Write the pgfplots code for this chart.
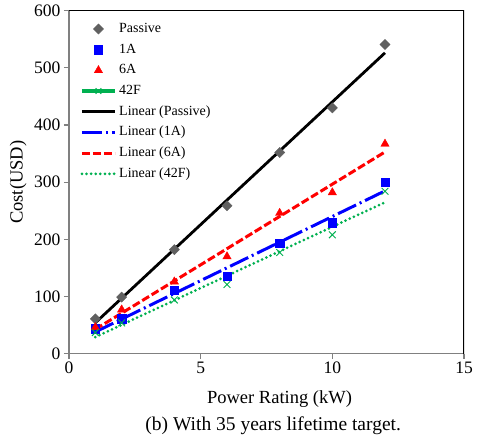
\documentclass[border=0pt]{standalone}
\usepackage{fontspec}
\setmainfont{Liberation Serif}
\usepackage{pgfplots}
\usepackage{pgfplotstable}
\pgfplotsset{compat=1.18}
\definecolor{pgray}{HTML}{606060}
\definecolor{pblue}{HTML}{0000FF}
\definecolor{pred}{HTML}{FF0000}
\definecolor{pgreen}{HTML}{00B050}
\definecolor{axgray}{HTML}{808080}

\pgfplotstableread{
x y
1 61
2 99
4 182
6 259
8 352
10 430
12 541
}\passive
\pgfplotstableread{
x y
1 44
2 61
4 111
6 136
8 193
10 229
12 300
}\oneA
\pgfplotstableread{
x y
1 46
2 77
4 126
6 170
8 246
10 282
12 367
}\sixA
\pgfplotstableread{
x y
1 37
2 54
4 94
6 121
8 177
10 208
12 284
}\ftwoF

\begin{document}
\begin{tikzpicture}
\begin{axis}[
  scale only axis,
  width=395pt, height=343pt,
  xmin=0, xmax=15, ymin=0, ymax=600,
  xtick={0,5,10,15}, ytick={0,100,...,600},
  axis x line*=bottom, axis y line*=left,
  x axis line style={-}, y axis line style={-},
  axis line style={axgray, line width=1.2pt},
  tick style={axgray, line width=1.2pt},
  major tick length=5pt,
  tick align=outside,
  /pgf/number format/assume math mode=true,
  ticklabel style={font=\fontsize{17.5}{20}\selectfont},
  xlabel={Power Rating (kW)},
  ylabel={Cost(USD)},
  label style={font=\fontsize{18.5}{22}\selectfont},
  xlabel style={at={(axis description cs:0.533,0)}, anchor=base, yshift=-50pt},
  ylabel style={at={(axis description cs:-0.107,0.5)}, anchor=south, inner sep=0pt},
  legend cell align=left,
  legend style={at={(axis description cs:0,1)}, anchor=north west, xshift=11pt, yshift=-7.7pt,
    draw=none, fill=none, inner sep=0pt, row sep=0pt,
    font=\fontsize{14}{16}\selectfont,
    nodes={inner ysep=3.85pt, inner xsep=2.5pt, text height=10pt, text depth=3pt}},
  legend image code/.code={\draw[mark repeat=2, mark phase=2, #1] plot coordinates {(0pt,0pt) (16.5pt,0pt) (33pt,0pt)};},
]
\addplot[only marks, mark=square*, mark size=3.6pt, mark options={rotate=45, fill=pgray, draw=pgray}] table[x=x,y=y] {\passive};
\addlegendentry{Passive}
\addplot[only marks, mark=square*, mark size=4.2pt, mark options={fill=pblue, draw=pblue}] table[x=x,y=y] {\oneA};
\addlegendentry{1A}
\addplot[only marks, mark=triangle*, mark size=4.8pt, mark options={fill=pred, draw=pred}] table[x=x,y=y] {\sixA};
\addlegendentry{6A}
\addlegendimage{pgreen, line width=3.5pt, mark=x, mark size=4pt, mark options={line width=1pt, solid}}
\addlegendentry{42F}
\addplot[forget plot, only marks, mark=x, mark size=4.8pt, mark options={pgreen, line width=0.9pt}] table[x=x,y=y] {\ftwoF};
\addplot[black, line width=2.8pt, no marks] table[x=x, y={create col/linear regression={y=y}}] {\passive};
\addlegendentry{Linear (Passive)}
\addplot[pblue, line width=3pt, no marks, dash pattern=on 20pt off 4pt on 2pt off 4pt] table[x=x, y={create col/linear regression={y=y}}] {\oneA};
\addlegendentry{Linear (1A)}
\addplot[pred, line width=3pt, no marks, dash pattern=on 8pt off 3pt] table[x=x, y={create col/linear regression={y=y}}] {\sixA};
\addlegendentry{Linear (6A)}
\addplot[pgreen, line width=3pt, no marks, line cap=round, dash pattern=on 0pt off 4.6pt] table[x=x, y={create col/linear regression={y=y}}] {\ftwoF};
\addlegendentry{Linear (42F)}
\draw[black, line width=1.2pt] (rel axis cs:0,1) -- (rel axis cs:1,1) -- (rel axis cs:1,0);
\coordinate (ll) at (rel axis cs:0,0);
\coordinate (ur) at (rel axis cs:1,1);
\coordinate (cap) at (rel axis cs:0.517,0);
\end{axis}
\node[anchor=base, font=\fontsize{19.5}{23}\selectfont, inner sep=0pt] at ([yshift=-77pt]cap) {(b) With 35 years lifetime target.};
\pgfresetboundingbox
\path ([shift={(-69pt,-84pt)}]ll) rectangle ([shift={(13pt,10.7pt)}]ur);
\end{tikzpicture}
\end{document}
